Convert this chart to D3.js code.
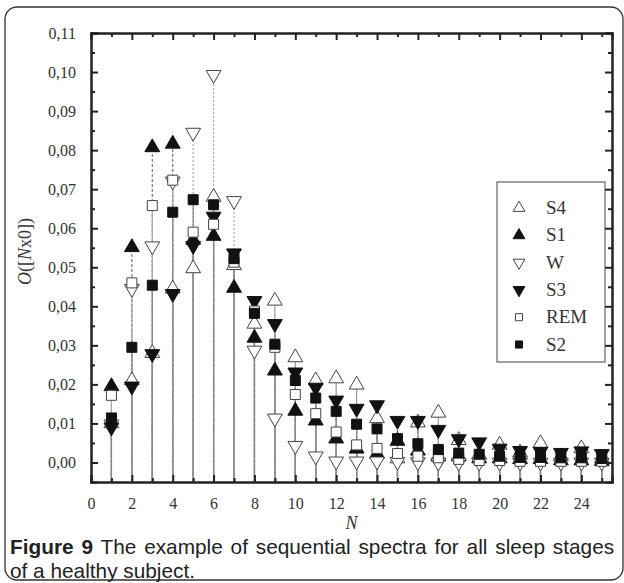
<!DOCTYPE html>
<html><head><meta charset="utf-8">
<script src="https://cdn.jsdelivr.net/npm/d3@7"></script>
<style>body{margin:0;background:#fff}</style>
</head><body>
<svg id="c" width="624" height="583"></svg>
<script>
const Ns = d3.range(1, 26);
const S4  = [0.0100,0.0210,0.0280,0.0445,0.0497,0.0680,0.0505,0.0355,0.0414,0.0269,0.0210,0.0215,0.0199,0.0113,0.0010,0.0102,0.0127,0.0057,0.0020,0.0045,0.0025,0.0049,0.0015,0.0036,0.0010];
const S1  = [0.0195,0.0551,0.0807,0.0816,0.0570,0.0580,0.0447,0.0319,0.0235,0.0132,0.0107,0.0061,0.0035,0.0022,0.0055,0.0030,0.0015,0.0015,0.0010,0.0010,0.0008,0.0008,0.0005,0.0005,0.0003];
const W   = [0.0098,0.0445,0.0554,0.0720,0.0845,0.0993,0.0670,0.0287,0.0113,0.0043,0.0016,0.0003,0.0003,0.0003,0.0002,0.0001,0.0000,0.0000,0.0000,0.0000,0.0000,0.0000,0.0000,0.0000,0.0000];
const S3  = [0.0090,0.0195,0.0278,0.0432,0.0555,0.0630,0.0536,0.0414,0.0355,0.0231,0.0192,0.0159,0.0138,0.0147,0.0107,0.0107,0.0084,0.0060,0.0052,0.0036,0.0030,0.0028,0.0025,0.0029,0.0022];
const REM = [0.0172,0.0460,0.0658,0.0723,0.0590,0.0610,0.0513,0.0388,0.0295,0.0174,0.0125,0.0078,0.0045,0.0036,0.0023,0.0016,0.0012,0.0008,0.0005,0.0005,0.0003,0.0003,0.0003,0.0003,0.0003];
const S2  = [0.0114,0.0295,0.0454,0.0641,0.0673,0.0660,0.0522,0.0382,0.0303,0.0210,0.0165,0.0131,0.0098,0.0086,0.0061,0.0048,0.0033,0.0024,0.0021,0.0016,0.0013,0.0013,0.0012,0.0012,0.0010];
const seriesNames = ["S4","S1","W","S3","REM","S2"];
const xTicks = d3.range(0, 26, 2);
const yTicks = d3.range(0, 0.111, 0.01);

const series = [
  {name:"S4", values:S4, shape:"tri", down:false, filled:false, dash:null, lc:"#999"},
  {name:"S1", values:S1, shape:"tri", down:false, filled:true, dash:"3,2", lc:"#777"},
  {name:"W", values:W, shape:"tri", down:true, filled:false, dash:"2,2", lc:"#aaa"},
  {name:"S3", values:S3, shape:"tri", down:true, filled:true, dash:"4,2", lc:"#555"},
  {name:"REM", values:REM, shape:"sq", down:false, filled:false, dash:null, lc:"#aaa"},
  {name:"S2", values:S2, shape:"sq", down:false, filled:true, dash:null, lc:"#888"}
];

const svg = d3.select("#c");
svg.append("rect").attr("x",5).attr("y",7).attr("width",618).attr("height",573)
  .attr("rx",12).attr("fill","none").attr("stroke","#333").attr("stroke-width",1.3);

const L=91, R=612, T=33, B=482;
const x = d3.scaleLinear().domain([0,25.5]).range([L,R]);
const y = d3.scaleLinear().domain([-0.005,0.11]).range([B,T]);

const plot = svg.append("g");
const drawOrder = ["W","S1","S3","S4","REM","S2"];
drawOrder.forEach(nm=>{
  const s = series.find(d=>d.name===nm);
  plot.append("g").selectAll("line").data(Ns).join("line")
    .attr("x1",n=>x(n)).attr("x2",n=>x(n))
    .attr("y1",y.range()[0]).attr("y2",(n,i)=>y(s.values[i]))
    .attr("stroke",s.lc).attr("stroke-width",1.2)
    .attr("stroke-dasharray",s.dash);
});

function sym(s, sizeTri, sizeSq){
  return s.shape==="tri" ? d3.symbol(d3.symbolTriangle, sizeTri)() : d3.symbol(d3.symbolSquare, sizeSq)();
}
series.forEach(s=>{
  const path = sym(s, 95, 100);
  plot.append("g").selectAll("path").data(Ns).join("path")
    .attr("d",path)
    .attr("transform",(n,i)=>`translate(${x(n)},${y(s.values[i])})${s.down?" rotate(180)":""}`)
    .attr("fill",s.filled?"#111":"#fff")
    .attr("stroke",s.filled?"#111":"#444").attr("stroke-width",1);
});

const fmt = d=>d3.format(".2f")(d).replace(".",",");
const axStyle = g=>{
  g.select(".domain").attr("stroke","#222").attr("stroke-width",2);
  g.selectAll(".tick line").attr("stroke","#222").attr("stroke-width",2);
  g.selectAll("text").attr("font-family","'Liberation Serif', serif").attr("font-size",16).attr("fill","#333");
};
const xMinor = d3.range(1,26,2);
const yMinor = d3.range(0.005,0.11,0.01);
svg.append("g").attr("transform",`translate(0,${B})`)
  .call(d3.axisBottom(x).tickValues(xMinor).tickSize(-4).tickFormat("")).call(axStyle);
svg.append("g").attr("transform",`translate(0,${B})`)
  .call(d3.axisBottom(x).tickValues(xTicks).tickSize(-7).tickPadding(16).tickFormat(d3.format("d"))).call(axStyle);
svg.append("g").attr("transform",`translate(0,${T})`)
  .call(d3.axisTop(x).tickValues(xMinor).tickSize(-4).tickFormat("")).call(axStyle);
svg.append("g").attr("transform",`translate(0,${T})`)
  .call(d3.axisTop(x).tickValues(xTicks).tickSize(-7).tickFormat("")).call(axStyle);
svg.append("g").attr("transform",`translate(${L},0)`)
  .call(d3.axisLeft(y).tickValues(yMinor).tickSize(-4).tickFormat("")).call(axStyle);
svg.append("g").attr("transform",`translate(${L},0)`)
  .call(d3.axisLeft(y).tickValues(yTicks).tickSize(-7).tickPadding(15).tickFormat(fmt)).call(axStyle);
svg.append("g").attr("transform",`translate(${R},0)`)
  .call(d3.axisRight(y).tickValues(yMinor).tickSize(-4).tickFormat("")).call(axStyle);
svg.append("g").attr("transform",`translate(${R},0)`)
  .call(d3.axisRight(y).tickValues(yTicks).tickSize(-7).tickFormat("")).call(axStyle);

const ylab = svg.append("text").attr("transform",`translate(31,${(T+B)/2-6}) rotate(-90)`)
  .attr("text-anchor","middle").attr("font-family","'Liberation Serif', serif").attr("font-size",18).attr("fill","#333");
ylab.append("tspan").attr("font-style","italic").text("O");
ylab.append("tspan").text("([");
ylab.append("tspan").attr("font-style","italic").text("N");
ylab.append("tspan").text("x0])");
svg.append("text").attr("x",(L+R)/2).attr("y",529).attr("text-anchor","middle")
  .attr("font-family","'Liberation Serif', serif").attr("font-style","italic").attr("font-size",18).attr("fill","#333").text("N");

const lg = svg.append("g");
lg.append("rect").attr("x",497).attr("y",182).attr("width",108).attr("height",180)
  .attr("fill","#fff").attr("stroke","#444").attr("stroke-width",1);
series.forEach((s,i)=>{
  const yy = 208 + i*27.3;
  lg.append("path").attr("d", sym(s, 60, 50))
    .attr("transform",`translate(519,${yy})${s.down?" rotate(180)":""}`)
    .attr("fill",s.filled?"#111":"#fff").attr("stroke",s.filled?"#111":"#444");
  lg.append("text").attr("x",546).attr("y",yy+6).attr("font-family","'Liberation Serif', serif")
    .attr("font-size",19).attr("fill","#333").text(seriesNames[i]);
});

const cap = svg.append("g").attr("font-family","'Liberation Sans', Arial, sans-serif").attr("font-size",20.8).attr("fill","#222");
const t1 = cap.append("text").attr("x",10).attr("y",554);
t1.append("tspan").attr("font-weight","bold").text("Figure 9");
t1.append("tspan").text(" The example of sequential spectra for all sleep stages");
const target = 602, nat = t1.node().getComputedTextLength();
if (nat < target) t1.attr("word-spacing", ((target - nat) / 9).toFixed(2));
cap.append("text").attr("x",10).attr("y",578).text("of a healthy subject.");
</script>
</body></html>
